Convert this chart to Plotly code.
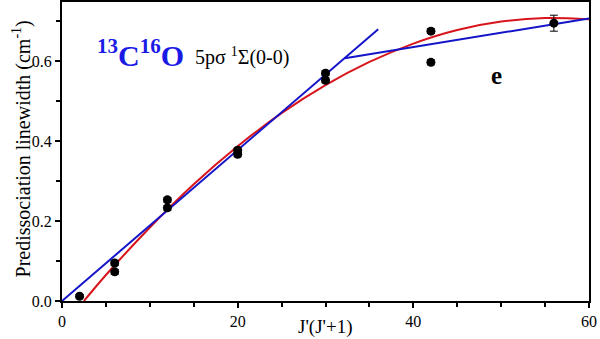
import plotly.graph_objects as go

# Measured data
jj = [2, 6, 6, 12, 12, 20, 20, 30, 30, 42, 42, 56]
width = [0.012, 0.095, 0.073, 0.253, 0.233, 0.377, 0.367, 0.570, 0.552, 0.675, 0.597, 0.695]
width_err = [0.004, 0.006, 0.006, 0.006, 0.006, 0.006, 0.006, 0.006, 0.006, 0.006, 0.006, 0.02]

fit_x = [2.5, 5, 10, 15, 20, 25, 30, 35, 40, 45, 50, 55, 60]
fit_y = [0.0, 0.065, 0.184, 0.292, 0.387, 0.47, 0.54, 0.598, 0.644, 0.678, 0.699, 0.708, 0.705]

# Blue linear segments
lin1_x = [0, 36]
lin1_y = [0.0, 0.68]
lin2_x = [32.2, 60]
lin2_y = [0.607, 0.707]

x_ticks = [0, 20, 40, 60]
y_ticks = [0.0, 0.2, 0.4, 0.6]

serif = "Liberation Serif"

fig = go.Figure()
fig.add_trace(go.Scatter(x=fit_x, y=fit_y, mode="lines", line=dict(color="#d8141c", width=2, shape="spline"),
                         showlegend=False, hoverinfo="skip"))
fig.add_trace(go.Scatter(x=lin1_x, y=lin1_y, mode="lines", line=dict(color="#1414c8", width=2),
                         showlegend=False))
fig.add_trace(go.Scatter(x=lin2_x, y=lin2_y, mode="lines", line=dict(color="#1414c8", width=2),
                         showlegend=False))
fig.add_trace(go.Scatter(x=jj, y=width, mode="markers",
                         marker=dict(color="black", size=9),
                         error_y=dict(type="data", array=width_err, color="black", thickness=1, width=4),
                         showlegend=False))

axis_common = dict(showline=True, linecolor="black", linewidth=2, mirror=True,
                   ticks="outside", ticklen=5, tickwidth=2, tickcolor="black",
                   showgrid=False, zeroline=False, automargin=False,
                   tickfont=dict(family=serif, size=16, color="black"))

fig.update_xaxes(range=[0, 60], tickvals=x_ticks, ticktext=[str(v) for v in x_ticks],
                 minor=dict(dtick=5, ticks="outside", ticklen=4, tickwidth=2, tickcolor="black"),
                 **axis_common)
fig.update_yaxes(range=[0, 0.748], tickvals=y_ticks, ticktext=["%.1f" % v for v in y_ticks],
                 minor=dict(dtick=0.1, ticks="outside", ticklen=4, tickwidth=2, tickcolor="black"),
                 **axis_common)

# Axis titles as annotations
fig.add_annotation(x=0.5, y=-0.087, xref="paper", yref="paper", xanchor="center", yanchor="middle",
                   text="J'(J'+1)", showarrow=False,
                   font=dict(family=serif, size=19, color="black"))
fig.add_annotation(x=-0.076, y=0.51, xref="paper", yref="paper", xanchor="center", yanchor="middle",
                   text="Predissociation linewidth (cm<sup>-1</sup>)", textangle=-90, showarrow=False,
                   font=dict(family=serif, size=20, color="black"))

fig.add_annotation(x=3.7, y=0.62, xref="x", yref="y", xanchor="left", yanchor="middle",
                   text="<b><sup>13</sup>C<sup>16</sup>O</b>", showarrow=False,
                   font=dict(family=serif, size=30, color="#1a1ae6"))
fig.add_annotation(x=14.9, y=0.612, xref="x", yref="y", xanchor="left", yanchor="middle",
                   text="5pσ <sup>1</sup>Σ(0-0)", showarrow=False,
                   font=dict(family=serif, size=20, color="black"))
fig.add_annotation(x=49.5, y=0.565, xref="x", yref="y", xanchor="center", yanchor="middle",
                   text="<b>e</b>", showarrow=False,
                   font=dict(family=serif, size=25, color="black"))

fig.update_layout(width=600, height=339, margin=dict(l=62, r=11, t=2, b=38),
                  plot_bgcolor="white", paper_bgcolor="white")

fig.write_html("out.html", config={"displayModeBar": False},
               post_script="document.body.style.margin='0';document.body.style.overflow='hidden';")
